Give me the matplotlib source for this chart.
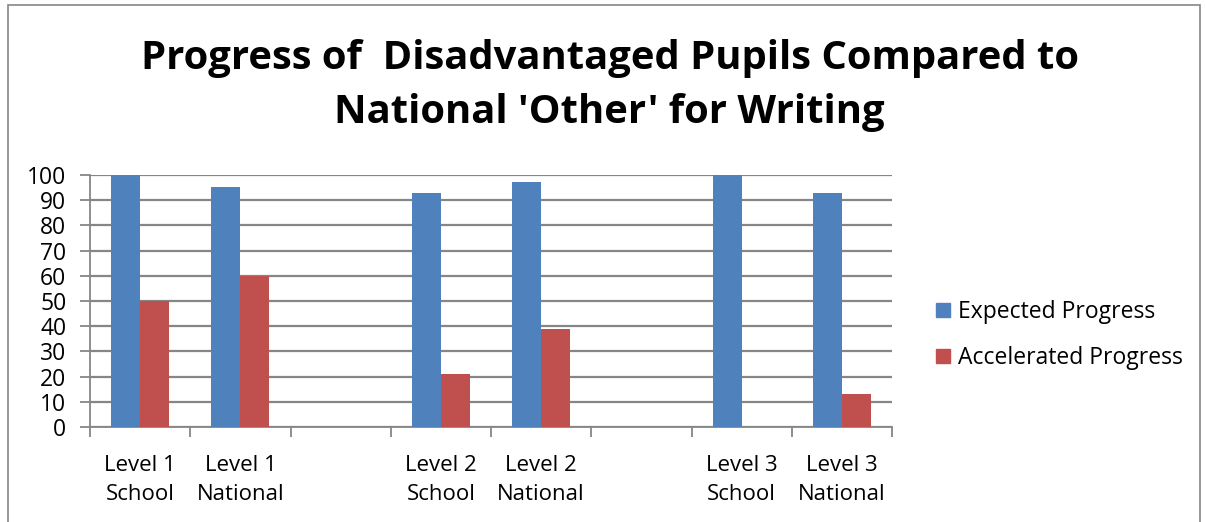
import numpy as np
import matplotlib
matplotlib.use('AGG')
import matplotlib.pyplot as plt
from matplotlib.patches import Rectangle, Patch

# progress percentages per group (blank slots separate the levels)
categories = ['Level 1\nSchool', 'Level 1\nNational', '',
              'Level 2\nSchool', 'Level 2\nNational', '',
              'Level 3\nSchool', 'Level 3\nNational']
expected = [100, 95, 0, 93, 97, 0, 100, 93]
accelerated = [50, 60, 0, 21, 39, 0, 0, 13]
series_names = ['Expected Progress', 'Accelerated Progress']
colors = ['#4F81BD', '#C0504D']

plt.rcParams['font.family'] = ['Open Sans', 'DejaVu Sans']
grid_col = '#868686'

fig = plt.figure(figsize=(12.05, 5.22), dpi=100)
ax = fig.add_axes([0.0747, 0.182, 0.6656, 0.483])

x = np.arange(len(categories))
w = 0.29
ax.bar(x - w / 2, expected, w, color=colors[0], zorder=3)
ax.bar(x + w / 2, accelerated, w, color=colors[1], zorder=3)

ax.set_xlim(-0.5, len(categories) - 0.5)
ax.set_ylim(0, 100)
ax.set_yticks(range(0, 101, 10))
ax.yaxis.grid(True, color=grid_col, linewidth=1.6, zorder=0)

# category labels centred, ticks on the boundaries
ax.set_xticks(x)
ax.set_xticklabels(categories, fontsize=16, linespacing=1.5)
ax.tick_params(axis='x', length=0, pad=20)
ax.set_xticks(np.arange(-0.5, len(categories)), minor=True)
ax.tick_params(axis='x', which='minor', length=7, width=1.3, color=grid_col)
ax.tick_params(axis='y', length=7, width=1.3, color=grid_col, labelsize=16.5, pad=10)

for side in ['top', 'right']:
    ax.spines[side].set_visible(False)
for side in ['left', 'bottom']:
    ax.spines[side].set_color(grid_col)
    ax.spines[side].set_linewidth(1.3)

fig.text(0.506, 0.837, "Progress of  Disadvantaged Pupils Compared to\nNational 'Other' for Writing",
         ha='center', va='center', fontsize=28.8, fontweight='bold', linespacing=1.5)

handles = [Patch(color=c) for c in colors]
fig.legend(handles, series_names, loc='center left', bbox_to_anchor=(0.76, 0.358),
           frameon=False, fontsize=16.5, handlelength=0.6, handleheight=0.6,
           handletextpad=0.35, labelspacing=0.95)

# outer chart border
fig.patches.append(Rectangle((0.007, -0.01), 0.989, 1.0, transform=fig.transFigure,
                             fill=False, edgecolor=grid_col, linewidth=1.2))

plt.savefig('out.png', dpi=100)
plt.close()
